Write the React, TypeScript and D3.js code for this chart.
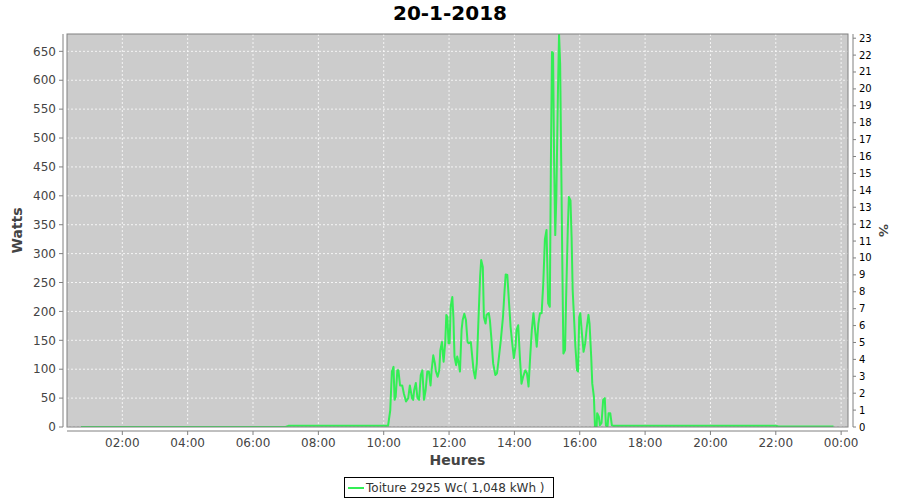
import React from "react";
import * as d3 from "d3";

const TITLE = "20-1-2018";
const Y_LABEL = "Watts";
const Y2_LABEL = "%";
const X_LABEL = "Heures";
const LEGEND = "Toiture 2925 Wc( 1,048 kWh )";
const PEAK_WC = 2925;

const times: string[] = [
  "00:44", "07:00", "07:05", "10:06", "10:08", "10:12", "10:15", "10:18", "10:20", "10:22",
  "10:25", "10:27", "10:30", "10:34", "10:37", "10:41", "10:45", "10:48", "10:52", "10:54",
  "10:56", "10:59", "11:02", "11:05", "11:08", "11:11", "11:14", "11:17", "11:20", "11:23",
  "11:26", "11:28", "11:31", "11:34", "11:36", "11:39", "11:42", "11:44", "11:47", "11:49",
  "11:50", "11:53", "11:55", "11:57", "11:59", "12:01", "12:03", "12:06", "12:08", "12:10",
  "12:13", "12:15", "12:18", "12:20", "12:23", "12:25", "12:28", "12:31", "12:34", "12:36",
  "12:40", "12:45", "12:48", "12:51", "12:54", "12:57", "12:59", "13:02", "13:04", "13:07",
  "13:09", "13:13", "13:15", "13:18", "13:21", "13:25", "13:28", "13:31", "13:35", "13:39",
  "13:42", "13:44", "13:47", "13:50", "13:53", "13:56", "13:59", "14:02", "14:04", "14:07",
  "14:10", "14:13", "14:16", "14:20", "14:23", "14:26", "14:29", "14:32", "14:35", "14:38",
  "14:41", "14:44", "14:47", "14:50", "14:53", "14:56", "14:59", "15:02", "15:05", "15:07",
  "15:09", "15:11", "15:13", "15:15", "15:17", "15:20", "15:22", "15:24", "15:26", "15:28",
  "15:30", "15:33", "15:35", "15:38", "15:40", "15:43", "15:45", "15:47", "15:50", "15:52",
  "15:55", "15:57", "15:59", "16:01", "16:04", "16:07", "16:10", "16:13", "16:16", "16:18",
  "16:21", "16:23", "16:26", "16:28", "16:31", "16:32", "16:35", "16:37", "16:40", "16:43",
  "16:46", "16:48", "16:51", "16:53", "16:56", "16:59", "17:02", "22:00", "22:05", "23:46"
];

const watts: number[] = [
  0, 0, 2, 2, 2, 29, 96, 104, 47, 52,
  98, 98, 72, 72, 58, 44, 50, 72, 50, 47,
  64, 76, 50, 47, 90, 98, 47, 64, 96, 96,
  72, 98, 124, 110, 96, 87, 98, 133, 147, 122,
  113, 147, 194, 190, 145, 145, 208, 225, 190, 122,
  107, 122, 110, 96, 168, 185, 196, 185, 147, 145,
  147, 98, 84, 110, 185, 260, 289, 277, 190, 179,
  194, 197, 185, 150, 110, 90, 93, 116, 150, 190,
  237, 264, 263, 217, 173, 145, 119, 139, 168, 176,
  122, 75, 87, 98, 93, 70, 122, 168, 197, 168,
  139, 179, 197, 197, 248, 325, 341, 214, 208, 456,
  649, 647, 456, 332, 398, 583, 680, 628, 456, 283,
  127, 133, 225, 341, 398, 392, 329, 237, 179, 139,
  98, 96, 190, 197, 162, 130, 145, 173, 194, 179,
  122, 75, 52, 0, 0, 24, 18, 3, 7, 47,
  50, 3, 0, 24, 24, 3, 2, 2, 1, 1
];

const yTicks: number[] = [0, 50, 100, 150, 200, 250, 300, 350, 400, 450, 500, 550, 600, 650];
const y2Ticks: number[] = d3.range(0, 24);

const W = 900;
const H = 500;
const plot = { left: 67, right: 848, top: 34, bottom: 427 };
const AXIS_GAP = 4;
const FONT = "'DejaVu Sans', sans-serif";

const day = (hm: string, extraDay = 0) => {
  const [h, m] = hm.split(":").map(Number);
  return new Date(2018, 0, 20 + extraDay, h, m, 0);
};

export default function App() {
  const x = d3
    .scaleTime()
    .domain([new Date(2018, 0, 20, 0, 18, 25), new Date(2018, 0, 21, 0, 12, 36)])
    .range([plot.left, plot.right]);
  const y = d3.scaleLinear().domain([0, 680]).range([plot.bottom, plot.top]);
  const y2 = d3
    .scaleLinear()
    .domain([0, (680 / PEAK_WC) * 100])
    .range([plot.bottom, plot.top]);

  const data = times.map((t, i) => ({ t: day(t), v: watts[i] }));
  const line = d3
    .line<{ t: Date; v: number }>()
    .x((d) => x(d.t))
    .y((d) => y(d.v));

  const xTicks = x.ticks(d3.timeHour.every(2)!).filter((d) => d.getHours() !== 0 || d.getDate() === 21);
  const fmt = d3.timeFormat("%H:%M");

  const xAxisY = plot.bottom + AXIS_GAP;
  const yAxisX = plot.left - AXIS_GAP;
  const y2AxisX = plot.right + 5;
  const green = "#33ee55";

  return (
    <svg width={W} height={H} style={{ position: "absolute", left: 0, top: 0, background: "#fff" }} fontFamily={FONT}>
      <defs>
        <clipPath id="plotclip">
          <rect x={plot.left} y={plot.top} width={plot.right - plot.left} height={plot.bottom - plot.top} />
        </clipPath>
      </defs>
      <rect x={0} y={0} width={W} height={H} fill="#fff" />
      <text x={W / 2} y={20} textAnchor="middle" fontSize={20} fontWeight="bold" fill="#000">
        {TITLE}
      </text>

      {/* plot background */}
      <rect x={plot.left} y={plot.top} width={plot.right - plot.left} height={plot.bottom - plot.top} fill="#cccccc" />

      {/* grid */}
      {yTicks.map((v) => (
        <line key={"gy" + v} x1={plot.left} x2={plot.right} y1={y(v)} y2={y(v)} stroke="#fff" strokeWidth={0.8} strokeDasharray="2,2" />
      ))}
      {xTicks.map((d) => (
        <line key={"gx" + d.getTime()} x1={x(d)} x2={x(d)} y1={plot.top} y2={plot.bottom} stroke="#fff" strokeWidth={0.8} strokeDasharray="2,2" />
      ))}

      {/* series */}
      <g clipPath="url(#plotclip)">
        <path d={line(data) ?? ""} fill="none" stroke={green} strokeWidth={2} strokeLinejoin="round" />
      </g>

      {/* plot outline */}
      <rect x={plot.left} y={plot.top} width={plot.right - plot.left} height={plot.bottom - plot.top} fill="none" stroke="#808080" strokeWidth={1} />

      {/* left axis */}
      <line x1={yAxisX} x2={yAxisX} y1={plot.top} y2={plot.bottom} stroke="#808080" />
      {yTicks.map((v) => (
        <g key={"yt" + v}>
          <line x1={yAxisX - 4} x2={yAxisX} y1={y(v)} y2={y(v)} stroke="#808080" />
          <text x={yAxisX - 7} y={y(v)} dy="0.35em" textAnchor="end" fontSize={12} fill="#444">
            {v}
          </text>
        </g>
      ))}
      <text transform={`translate(22,${(plot.top + plot.bottom) / 2}) rotate(-90)`} textAnchor="middle" fontSize={14} fontWeight="bold" fill="#444">
        {Y_LABEL}
      </text>

      {/* right axis */}
      <line x1={y2AxisX} x2={y2AxisX} y1={plot.top} y2={plot.bottom} stroke="#808080" />
      {y2Ticks.map((v) => (
        <g key={"y2t" + v}>
          <line x1={y2AxisX} x2={y2AxisX + 3} y1={y2(v)} y2={y2(v)} stroke="#808080" />
          <text x={y2AxisX + 6} y={y2(v)} dy="0.35em" textAnchor="start" fontSize={10} fill="#000">
            {v}
          </text>
        </g>
      ))}
      <text transform={`translate(879,${(plot.top + plot.bottom) / 2}) rotate(90)`} textAnchor="middle" fontSize={13} fontWeight="bold" fill="#444">
        {Y2_LABEL}
      </text>

      {/* bottom axis */}
      <line x1={plot.left} x2={plot.right} y1={xAxisY} y2={xAxisY} stroke="#808080" />
      {xTicks.map((d) => (
        <g key={"xt" + d.getTime()}>
          <line x1={x(d)} x2={x(d)} y1={xAxisY} y2={xAxisY + 4} stroke="#808080" />
          <text x={x(d)} y={xAxisY + 16} textAnchor="middle" fontSize={12} fill="#444">
            {fmt(d)}
          </text>
        </g>
      ))}
      <text x={(plot.left + plot.right) / 2} y={465} textAnchor="middle" fontSize={14} fontWeight="bold" fill="#444">
        {X_LABEL}
      </text>

      {/* legend */}
      <rect x={344.5} y={477.5} width={209} height={20} fill="#fff" stroke="#000" strokeWidth={1} />
      <line x1={348} x2={364} y1={488} y2={488} stroke={green} strokeWidth={2} />
      <text x={366} y={492} fontSize={12} fill="#333">
        {LEGEND}
      </text>
    </svg>
  );
}
